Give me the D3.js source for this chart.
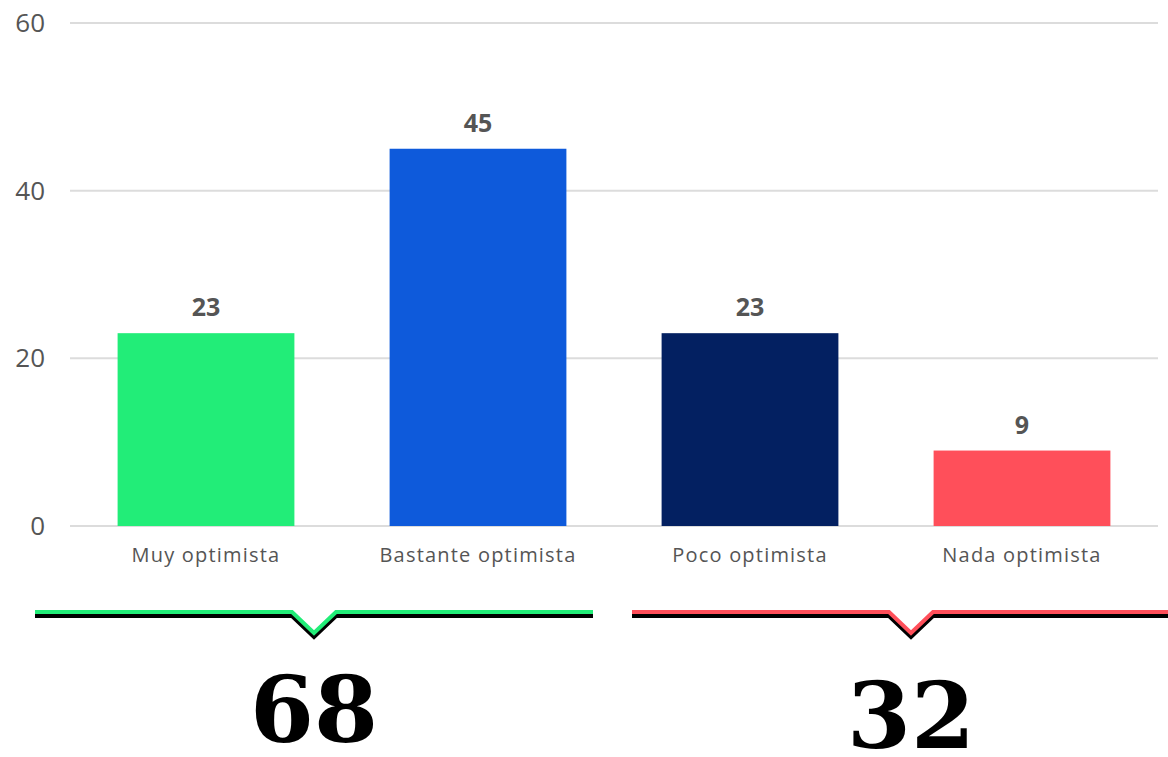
<!DOCTYPE html>
<html>
<head>
<meta charset="utf-8">
<script src="https://cdn.jsdelivr.net/npm/d3@7"></script>
<style>
  body { margin: 0; background: #fff; }
  svg { display: block; }
  .tick-lbl { font-family: "Open Sans", sans-serif; font-size: 26px; fill: #555; }
  .cat-lbl { font-family: "Open Sans", sans-serif; font-size: 20px; fill: #555; letter-spacing: 1.2px; }
  .val-lbl { font-family: "Open Sans", sans-serif; font-size: 25px; font-weight: 700; fill: #555; }
  .total { font-family: "DejaVu Serif", serif; font-size: 92px; font-weight: 700; fill: #000; }
</style>
</head>
<body>
<div id="chart"></div>
<script>
// chart data
const categories = ["Muy optimista", "Bastante optimista", "Poco optimista", "Nada optimista"];
const values = [23, 45, 23, 9];
const barColors = ["#22ED78", "#0E5ADB", "#032061", "#FF4F5A"];
const yTicks = [0, 20, 40, 60];
// summary groups: which categories add up under each bracket
const groupMembers = [[0, 1], [2, 3]];
const groupColors = ["#22ED78", "#FF4F5A"];

const width = 1168, height = 757;

const svg = d3.select("#chart").append("svg")
    .attr("width", width)
    .attr("height", height);

const x = d3.scaleBand()
    .domain(categories)
    .range([70, 1158])
    .paddingInner(0.35)
    .paddingOuter(0.175);

const y = d3.scaleLinear()
    .domain([0, 60])
    .range([526, 23]);

// gridlines
svg.append("g").selectAll("line")
    .data(yTicks)
    .enter().append("line")
    .attr("x1", 70)
    .attr("x2", 1158)
    .attr("y1", d => y(d))
    .attr("y2", d => y(d))
    .attr("stroke", "#dcdcdc")
    .attr("stroke-width", 2);

svg.append("g").selectAll("text")
    .data(yTicks)
    .enter().append("text")
    .attr("class", "tick-lbl")
    .attr("x", 45)
    .attr("y", d => y(d))
    .attr("dy", "0.35em")
    .attr("text-anchor", "end")
    .text(d => d);

// bars
svg.append("g").selectAll("rect")
    .data(values)
    .enter().append("rect")
    .attr("x", (d, i) => x(categories[i]))
    .attr("y", d => y(d))
    .attr("width", x.bandwidth())
    .attr("height", d => y(0) - y(d))
    .attr("fill", (d, i) => barColors[i]);

svg.append("g").selectAll("text")
    .data(values)
    .enter().append("text")
    .attr("class", "val-lbl")
    .attr("x", (d, i) => x(categories[i]) + x.bandwidth() / 2)
    .attr("y", d => y(d) - 17)
    .attr("text-anchor", "middle")
    .text(d => d);

svg.append("g").selectAll("text")
    .data(categories)
    .enter().append("text")
    .attr("class", "cat-lbl")
    .attr("x", d => x(d) + x.bandwidth() / 2)
    .attr("y", 562)
    .attr("text-anchor", "middle")
    .text(d => d);

// brackets + totals
const bracketY = 612, notchW = 22, notchH = 21, groupW = 558;
const groupLeft = [35, 632];
const line = d3.line();

groupMembers.forEach((members, gi) => {
    const x0 = groupLeft[gi], x1 = x0 + groupW, cx = (x0 + x1) / 2;
    const pts = [[x0, bracketY], [cx - notchW, bracketY], [cx, bracketY + notchH],
                 [cx + notchW, bracketY], [x1, bracketY]];
    const g = svg.append("g");
    g.append("path")
        .attr("d", line(pts))
        .attr("transform", "translate(0,4)")
        .attr("fill", "none")
        .attr("stroke", "#000")
        .attr("stroke-width", 4);
    g.append("path")
        .attr("d", line(pts))
        .attr("fill", "none")
        .attr("stroke", groupColors[gi])
        .attr("stroke-width", 4);

    const total = d3.sum(members, i => values[i]);
    g.append("text")
        .attr("class", "total")
        .attr("x", cx)
        .attr("y", gi === 0 ? 742 : 748)
        .attr("text-anchor", "middle")
        .text(total);
});
</script>
</body>
</html>
